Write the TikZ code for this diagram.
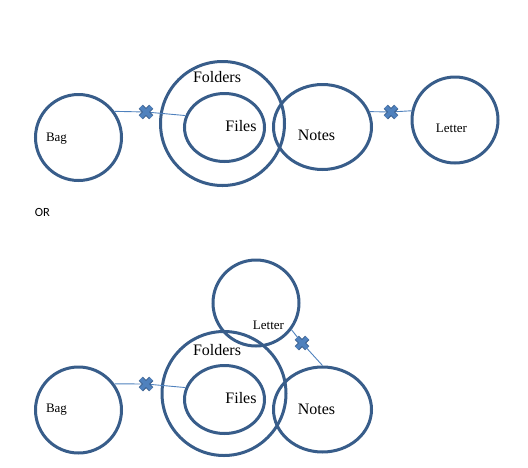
\documentclass[tikz,border=0pt]{standalone}
\usepackage{fontspec}
\setmainfont{Liberation Serif}
\newfontfamily\orfont{Carlito}
\usetikzlibrary{shapes.geometric}
\definecolor{ringBlue}{RGB}{56,93,138}
\definecolor{linkBlue}{RGB}{79,129,189}
\tikzset{
  ring/.style={ellipse,draw=ringBlue,line width=3pt,inner sep=0pt},
  link/.style={draw=linkBlue,line width=0.9pt},
  xmark/.style={rectangle,inner sep=0pt,minimum size=10pt},
  xedge/.style={draw=ringBlue,line width=6pt},
  xfill/.style={draw=linkBlue,line width=4pt},
  bigtxt/.style={inner sep=0pt,font=\fontsize{16}{18}\selectfont},
  smalltxt/.style={inner sep=0pt,font=\fontsize{13}{15}\selectfont}
}

\begin{document}
\begin{tikzpicture}[x=1pt,y=-1pt]
\useasboundingbox (0,0) rectangle (528,467);
% upper row
\node[ring,minimum width=86pt,minimum height=86pt] (bagA) at (78.5,137.5) {};
\node[ring,minimum width=124pt,minimum height=124pt] (foldersA) at (222.5,123.5) {};
\node[ring,minimum width=80pt,minimum height=68pt] (filesA) at (224.5,127.5) {};
\node[ring,minimum width=98pt,minimum height=85pt] (notesA) at (322.5,127) {};
\node[ring,minimum width=86pt,minimum height=86pt] (letterA) at (455,120) {};
\node[smalltxt] (bagAtxt) at (56.5,139) {Bag};
\node[bigtxt] (foldersAtxt) at (217,77) {Folders};
\node[bigtxt] (filesAtxt) at (241,126) {Files};
\node[bigtxt] (notesAtxt) at (316.5,135) {Notes};
\node[smalltxt] (letterAtxt) at (451.5,128) {Letter};
\node[xmark] (xA) at (146,112) {};
\node[xmark] (xB) at (391,112) {};
\draw[link] (bagA.36) -- (xA.center) -- (filesA.163);
\draw[link] (notesA.18) -- (xB.center) -- (letterA.168);

\node[inner sep=0pt,font=\orfont\fontsize{12.5}{14}\selectfont] (orTxt) at (42.5,212) {OR};

% lower row
\node[ring,minimum width=86pt,minimum height=86pt] (bagB) at (78.5,410) {};
\node[ring,minimum width=124pt,minimum height=124pt] (foldersB) at (224,393.5) {};
\node[ring,minimum width=80pt,minimum height=68pt] (filesB) at (224.5,399.5) {};
\node[ring,minimum width=98pt,minimum height=85pt] (notesB) at (322.5,409.5) {};
\node[ring,minimum width=86pt,minimum height=86pt] (letterB) at (256,303) {};
\node[smalltxt] (bagBtxt) at (56.5,410) {Bag};
\node[bigtxt] (foldersBtxt) at (217,350) {Folders};
\node[bigtxt] (filesBtxt) at (241,398) {Files};
\node[bigtxt] (notesBtxt) at (316.5,409) {Notes};
\node[smalltxt] (letterBtxt) at (268.5,325) {Letter};
\node[xmark] (xC) at (146,384) {};
\node[xmark] (xD) at (302,343) {};
\draw[link] (bagB.36) -- (xC.center) -- (filesB.163);
\draw[link] (letterB.-37) -- (xD.center) -- (notesB.90);

% the crosses
\foreach \m in {xA,xB,xC,xD} {
  \draw[xedge] (\m.north east) -- (\m.south west) (\m.north west) -- (\m.south east);
  \draw[xfill] (\m.north east) -- (\m.south west) (\m.north west) -- (\m.south east);
}
\end{tikzpicture}
\end{document}
